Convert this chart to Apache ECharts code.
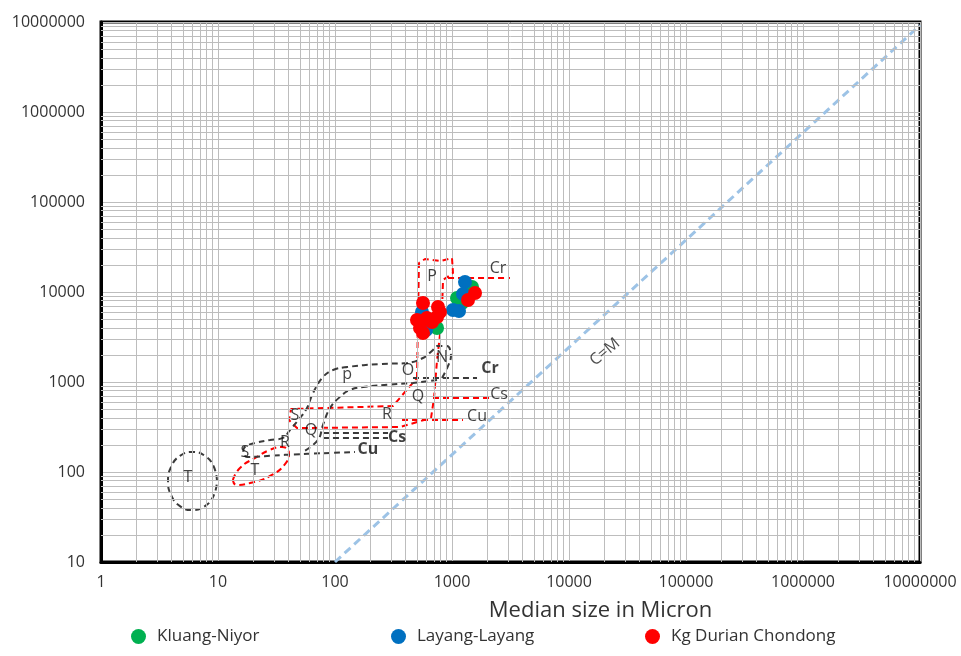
<!DOCTYPE html>
<html><head><meta charset="utf-8">
<script src="https://cdn.jsdelivr.net/npm/echarts@6/dist/echarts.min.js"></script>
<style>html,body{margin:0;padding:0;background:#fff}#c{width:961px;height:656px}</style>
</head><body><div id="c"></div>
<script>
// ---- sample data (Median size µm, Coarsest size 1%) ----
const kluangNiyor = [[1483,11370],[1104,8580],[745,3980],[649,4300],[1217,7550]];
const layangLayang = [[1291,12900],[1020,6310],[1148,6150],[554,6000],[600,3780],[1242,9500]];
const kgDurianChondong = [[1573,9750],[1370,8150],[565,7550],[759,6810],[745,5270],[502,4890],[611,5140],[533,3980],[565,3500],[675,4640],[789,6000]];
const seriesNames = ['Kluang-Niyor','Layang-Layang','Kg Durian Chondong'];

// ---- axis tick labels ----
const xTicks = [1,10,100,1000,10000,100000,1000000,10000000];
const yTicks = [10,100,1000,10000,100000,1000000,10000000];

// ---- C=M reference line ----
const cmLine = [[100,10],[10000000,9200000]];

// ---- Passega field outlines (data units) ----
const redFieldNOPQRS = [[502,1108],[522,21000],[588,23270],[805,22100],[1000,23870],[1020,16260],[838,13590],[822,6310],[789,3330],[745,1756],[702,664],[662,398],[359,316],[47.3,308],[40.4,378],[42.1,501],[313,541],[502,1108]];
const redCr = [[925,14310],[3130,14310]];
const redCs = [[688,664],[2113,664]];
const redCu = [[374,378],[1242,378]];
const redT = [[13.4,81.5],[15.4,111],[21.5,147],[27.8,176],[35.2,190],[40.4,163],[38.1,126],[27.8,90.3],[18.8,75.4],[14.3,71.7],[13.4,81.5]];
const blackOuter = [[822,1108],[925,1506],[980,1944],[906,2512],[745,2512],[688,2269],[565,1848],[412,1625],[243,1585],[127,1468],[96.2,1359],[78.9,1136],[64.9,755],[57.6,514],[50.2,398],[41.2,293],[35.9,239],[27.8,227],[20.7,210],[17.0,190],[16.4,167],[17.7,147],[37.4,155],[148,167]];
const blackInner = [[745,1052],[464,975],[339,950],[174,880],[134,815],[110,681],[90.6,514],[78.9,333],[71.6,227],[53.2,167]];
const blackCr = [[464,1108],[1636,1108]];
const blackCs1 = [[78.9,271],[284,271]];
const blackCs2 = [[78.9,239],[284,239]];
const blackT = [[9.8,79.4],[9.19,115],[7.74,151],[6.05,167],[4.73,151],[3.99,115],[3.74,79.4],[3.99,54.8],[4.73,41.8],[6.05,37.8],[7.74,41.8],[9.19,54.8],[9.8,79.4]];

// ---- annotation labels ----
const labelText = ['P','Cr','N','O','Cr','p','Q','Cs','R','Cu','S','Q','Cs','R','Cu','S','T','T'];
const labelX    = [675,2472,822,421,2113,127,512,2522,278,1636,45.5,62.4,339,37.4,191,17.0,20.7,5.54];
const labelY    = [15060,18480,1896,1359,1431,1227,699,736,441,419,430,293,245,215,176,163,105,88];
const labelBold = [0,0,0,0,1,0,0,0,0,0,0,0,1,0,1,0,0,0];
const cmLabel = {text:'C=M', x:20300, y:2154};

const FONT = 'Open Sans';
const gridColor = '#bdbdbd';

const xMinor = [], yMinor = [];
for (let e = 0; e < 7; e++) for (let k = 2; k <= 9; k++) xMinor.push({xAxis: k * Math.pow(10, e)});
for (let e = 1; e < 7; e++) for (let k = 2; k <= 9; k++) yMinor.push({yAxis: k * Math.pow(10, e)});

function dashed(name, data, color, smooth) {
  return {type:'line', name, data, smooth: smooth || false, symbol:'none', silent:true, z:3,
    lineStyle:{color, width:2, type:[6,4]}};
}

const labelData = labelText.map((t,i)=>({value:[labelX[i],labelY[i]], name:t,
  label:{fontWeight: labelBold[i] ? 'bold' : 'normal'}}));

const legendLefts = [126, 386, 640];
const legends = seriesNames.map((n,i)=>({
  left: legendLefts[i], bottom: 6, icon:'circle', itemWidth:15, itemHeight:15,
  data:[n], selectedMode:false,
  textStyle:{fontFamily:FONT, fontSize:17, color:'#333', padding:[0,0,0,6]}
}));

const chart = echarts.init(document.getElementById('c'), null, {renderer:'canvas'});
chart.setOption({
  animation:false,
  backgroundColor:'#fff',
  grid:{left:101, right:41, top:22, bottom:94, containLabel:false, outerBoundsMode:'none',
    show:true, borderColor:'#000', borderWidth:3, backgroundColor:'transparent'},
  xAxis:{type:'log', logBase:10, min:1, max:10000000, splitNumber:7,
    name:'Median size in Micron', nameLocation:'middle', nameGap:38,
    nameTextStyle:{fontFamily:FONT, fontSize:22, color:'#333', padding:[0,0,0,180]},
    axisLine:{show:true, lineStyle:{color:'#000', width:3}},
    axisTick:{show:false},
    axisLabel:{fontFamily:FONT, fontSize:16, color:'#333', margin:12, formatter:v=>String(Math.round(v))},
    splitLine:{show:true, lineStyle:{color:gridColor, width:1}}},
  yAxis:{type:'log', logBase:10, min:10, max:10000000, splitNumber:6,
    name:'Coarsest size (1%)', nameLocation:'middle', nameGap:66, nameRotate:90,
    nameTextStyle:{fontFamily:FONT, fontSize:22, color:'#333'},
    axisLine:{show:true, lineStyle:{color:'#000', width:3}},
    axisTick:{show:false},
    axisLabel:{fontFamily:FONT, fontSize:16, color:'#333', margin:16, formatter:v=>String(Math.round(v))},
    splitLine:{show:true, lineStyle:{color:gridColor, width:1}}},
  legend: legends,
  series:[
    {type:'line', name:'grid', data:[], silent:true, z:1,
      markLine:{silent:true, symbol:'none', label:{show:false}, animation:false,
        lineStyle:{color:gridColor, width:1, type:'solid'}, data: xMinor.concat(yMinor)}},
    {type:'line', name:'C=M', data:cmLine, symbol:'none', silent:true, z:2,
      lineStyle:{color:'#9dc3e6', width:3, type:[8,5]}},
    dashed('r1', redFieldNOPQRS, '#ff0000'),
    dashed('r2', redCr, '#ff0000'),
    dashed('r3', redCs, '#ff0000'),
    dashed('r4', redCu, '#ff0000'),
    dashed('r5', redT, '#ff0000', true),
    dashed('b1', blackOuter, '#3a3a3a', 0.4),
    dashed('b2', blackInner, '#3a3a3a', 0.4),
    dashed('b3', blackCr, '#3a3a3a'),
    dashed('b4', blackCs1, '#3a3a3a'),
    dashed('b5', blackCs2, '#3a3a3a'),
    dashed('b6', blackT, '#3a3a3a', true),
    {type:'scatter', name:'labels', data:labelData, symbolSize:0, silent:true, z:6,
      label:{show:true, position:'inside', formatter:p=>p.name, fontFamily:FONT, fontSize:16, color:'#111'}},
    {type:'scatter', name:'cm', data:[{value:[cmLabel.x,cmLabel.y], name:cmLabel.text}], symbolSize:0, silent:true, z:6,
      label:{show:true, position:'inside', formatter:p=>p.name, rotate:40, fontFamily:FONT, fontSize:16, color:'#222'}},
    {type:'scatter', name:seriesNames[0], data:kluangNiyor, symbolSize:14, z:5, itemStyle:{color:'#00b050', opacity:1}},
    {type:'scatter', name:seriesNames[1], data:layangLayang, symbolSize:14, z:5, itemStyle:{color:'#0070c0', opacity:1}},
    {type:'scatter', name:seriesNames[2], data:kgDurianChondong, symbolSize:14, z:5, itemStyle:{color:'#ff0000', opacity:1}}
  ]
});
</script></body></html>
